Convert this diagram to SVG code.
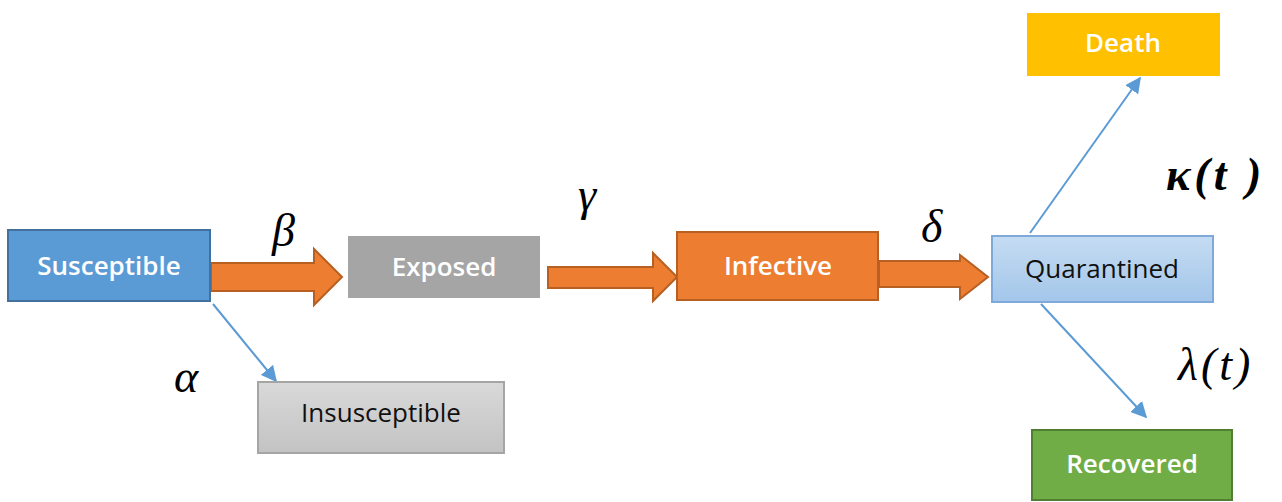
<svg xmlns="http://www.w3.org/2000/svg" width="1282" height="502" viewBox="0 0 1282 502">
<defs>
<style>
.nt{font-family:"Open Sans","Liberation Sans",sans-serif;font-size:26px;text-anchor:middle;dominant-baseline:central}
.w{fill:#ffffff;font-weight:600}
.d{fill:#111111}
.g{font-family:"Liberation Serif","Times New Roman",serif;font-style:italic;font-size:46px;fill:#000}
.fat{fill:#ED7D31;stroke:#B85F22;stroke-width:2}
</style>
<marker id="ah2" viewBox="0 0 10 10" refX="9" refY="5" markerWidth="16" markerHeight="16" orient="auto" markerUnits="userSpaceOnUse">
<path d="M0,0 L10,5 L0,10 z" fill="#5B9BD5"/>
</marker>
<linearGradient id="qg" x1="0" y1="0" x2="0" y2="1">
<stop offset="0" stop-color="#C5DCF2"/><stop offset="1" stop-color="#A3C6EA"/>
</linearGradient>
<linearGradient id="ig" x1="0" y1="0" x2="0" y2="1">
<stop offset="0" stop-color="#D9D9D9"/><stop offset="1" stop-color="#C3C3C3"/>
</linearGradient>
</defs>
<rect width="1282" height="502" fill="#fff"/>

<g id="connectors">
<path class="fat" d="M211,263 L314,263 L314,249 L342,277 L314,305 L314,291 L211,291 Z"/>
<path class="fat" d="M548,267 L653,267 L653,253 L677,277 L653,301 L653,288 L548,288 Z"/>
<path class="fat" d="M879,261 L960,261 L960,255 L988,277 L960,299 L960,287 L879,287 Z"/>
<line x1="213" y1="304" x2="276" y2="381" stroke="#5B9BD5" stroke-width="2" marker-end="url(#ah2)"/>
<line x1="1030" y1="233" x2="1140" y2="78" stroke="#5B9BD5" stroke-width="2" marker-end="url(#ah2)"/>
<line x1="1041" y1="304" x2="1146" y2="417" stroke="#5B9BD5" stroke-width="2" marker-end="url(#ah2)"/>
</g>

<g id="susceptible">
<rect x="8" y="230" width="202" height="71" fill="#5B9BD5" stroke="#41719C" stroke-width="2"/>
<text class="nt w" x="109" y="265">Susceptible</text>
</g>
<g id="exposed">
<rect x="348" y="236" width="192" height="62" fill="#A5A5A5"/>
<text class="nt w" x="444" y="266">Exposed</text>
</g>
<g id="infective">
<rect x="677" y="232" width="201" height="68" fill="#ED7D31" stroke="#B85F22" stroke-width="2"/>
<text class="nt w" x="778" y="265">Infective</text>
</g>
<g id="quarantined">
<rect x="992" y="236" width="221" height="66" fill="url(#qg)" stroke="#7FA9D9" stroke-width="2"/>
<text class="nt d" x="1102" y="268">Quarantined</text>
</g>
<g id="death">
<rect x="1027" y="13" width="193" height="63" fill="#FFC000"/>
<text class="nt w" x="1123" y="42">Death</text>
</g>
<g id="recovered">
<rect x="1032" y="430" width="200" height="70" fill="#70AD47" stroke="#507E32" stroke-width="2"/>
<text class="nt w" x="1132" y="463">Recovered</text>
</g>
<g id="insusceptible">
<rect x="258" y="382" width="246" height="71" fill="url(#ig)" stroke="#A5A5A5" stroke-width="2"/>
<text class="nt d" x="381" y="412">Insusceptible</text>
</g>

<g id="labels">
<text class="g" x="272" y="246">β</text>
<text class="g" x="174" y="392">α</text>
<text class="g" x="578" y="210">γ</text>
<text class="g" x="921" y="242">δ</text>
<text class="g" x="1166" y="190" font-weight="bold" font-size="52" letter-spacing="4">κ(t )</text>
<text class="g" x="1178" y="380" font-style="normal" font-size="50" letter-spacing="3"><tspan font-style="italic">λ</tspan>(<tspan font-style="italic">t</tspan>)</text>
</g>
</svg>
